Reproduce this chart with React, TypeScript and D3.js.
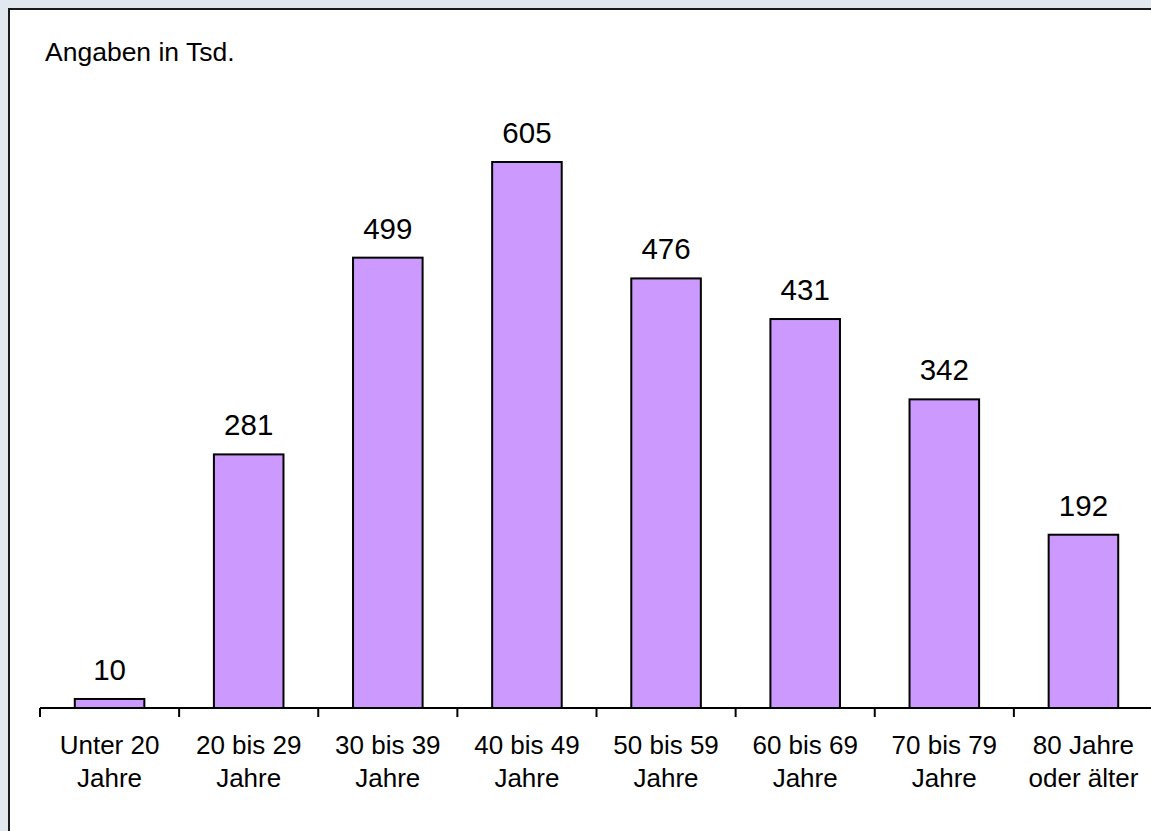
import React from "react";
import * as d3 from "d3";

// Age groups (two-line axis labels) and counts in thousands
const categoriesLine1 = ["Unter 20", "20 bis 29", "30 bis 39", "40 bis 49", "50 bis 59", "60 bis 69", "70 bis 79", "80 Jahre"];
const categoriesLine2 = ["Jahre", "Jahre", "Jahre", "Jahre", "Jahre", "Jahre", "Jahre", "oder älter"];
const values = [10, 281, 499, 605, 476, 431, 342, 192];
const unitNote = "Angaben in Tsd.";

const W = 1151;
const H = 831;
const FONT = "'Liberation Sans', Arial, Helvetica, sans-serif";

export default function App() {
  const keys = categoriesLine1.map((_, i) => String(i));
  const x = d3.scaleBand<string>().domain(keys).range([40, 1153]).paddingInner(0).paddingOuter(0);
  const y = d3.scaleLinear().domain([0, 700]).range([708, 708 - 700 * (546 / 605)]);
  const bw = x.bandwidth() * 0.5;
  const ticks = keys.map((k) => x(k) as number).concat([x.range()[1]]);

  return (
    <div style={{ position: "absolute", left: 0, top: 0 }}>
      <svg width={W} height={H} style={{ display: "block" }}>
        <rect x={0} y={0} width={W} height={H} fill="#e1e8f0" />
        <rect x={9} y={9} width={W + 20} height={H + 20} fill="#ffffff" stroke="#1a1a1a" strokeWidth={2} />
        <text x={45} y={61} fontFamily={FONT} fontSize={26.5} fill="#000">
          {unitNote}
        </text>
        {values.map((v, i) => {
          const cx = (x(String(i)) as number) + x.bandwidth() / 2;
          return (
            <g key={i}>
              <rect
                x={cx - bw / 2}
                y={y(v)}
                width={bw}
                height={y(0) - y(v)}
                fill="#cc99ff"
                stroke="#000"
                strokeWidth={2}
              />
              <text x={cx} y={y(v) - 19} textAnchor="middle" fontFamily={FONT} fontSize={29.5} fill="#000">
                {v}
              </text>
              <text x={cx} y={754} textAnchor="middle" fontFamily={FONT} fontSize={26} fill="#000">
                {categoriesLine1[i]}
              </text>
              <text x={cx} y={787} textAnchor="middle" fontFamily={FONT} fontSize={26} fill="#000">
                {categoriesLine2[i]}
              </text>
            </g>
          );
        })}
        <line x1={40} x2={1153} y1={y(0)} y2={y(0)} stroke="#000" strokeWidth={2} />
        {ticks.map((t, i) => (
          <line key={i} x1={t} x2={t} y1={y(0)} y2={y(0) + 9} stroke="#000" strokeWidth={2} />
        ))}
      </svg>
    </div>
  );
}
